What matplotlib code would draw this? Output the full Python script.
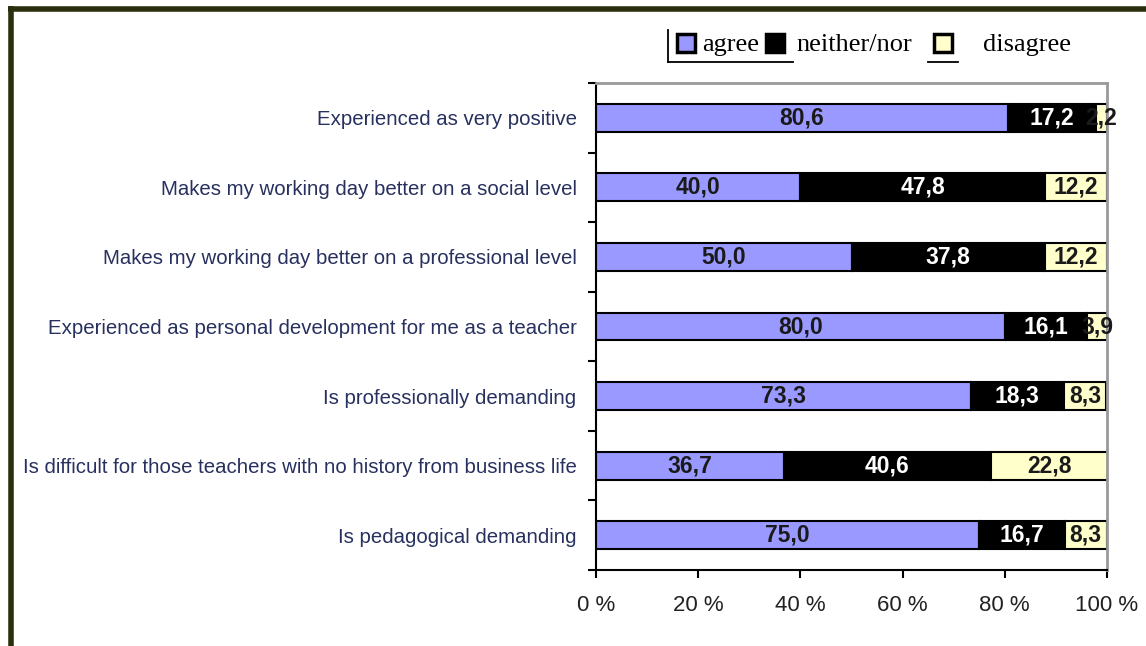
import matplotlib.pyplot as plt
from matplotlib.lines import Line2D
from matplotlib.patches import Rectangle

plt.rcParams["font.family"] = "Liberation Sans"

categories = [
    "Experienced as very positive",
    "Makes my working day better on a social level",
    "Makes my working day better on a professional level",
    "Experienced as personal development for me as a teacher",
    "Is professionally demanding",
    "Is difficult for those teachers with no history from business life",
    "Is pedagogical demanding",
]
agree = [80.6, 40.0, 50.0, 80.0, 73.3, 36.7, 75.0]
neither = [17.2, 47.8, 37.8, 16.1, 18.3, 40.6, 16.7]
disagree = [2.2, 12.2, 12.2, 3.9, 8.3, 22.8, 8.3]
xticks = [0, 20, 40, 60, 80, 100]

c_agree = "#9999ff"
c_neither = "#000000"
c_disagree = "#ffffcc"
c_label = "#27305e"

W, H = 1146, 646
fig = plt.figure(figsize=(W / 100, H / 100), dpi=100)
ax = fig.add_axes([596 / W, 1 - 570 / H, 511 / W, 487 / H])

y = list(range(len(categories)))
h = 0.4
ax.barh(y, agree, height=h, color=c_agree, edgecolor="black", linewidth=1.5, zorder=2)
ax.barh(y, neither, left=agree, height=h, color=c_neither, edgecolor="black",
        linewidth=1.5, zorder=2)
left3 = [a + n for a, n in zip(agree, neither)]
ax.barh(y, disagree, left=left3, height=h, color=c_disagree, edgecolor="black",
        linewidth=1.5, zorder=2)

def fmt(v):
    return ("%.1f" % v).replace(".", ",")

for i in y:
    ax.text(agree[i] / 2, i, fmt(agree[i]), ha="center", va="center",
            fontsize=16.5, fontweight="bold", color="#1a1a1a", zorder=3)
    ax.text(agree[i] + neither[i] / 2, i, fmt(neither[i]), ha="center", va="center",
            fontsize=16.5, fontweight="bold", color="white", zorder=3)
    ax.text(left3[i] + disagree[i] / 2, i, fmt(disagree[i]), ha="center", va="center",
            fontsize=16.5, fontweight="bold", color="#1a1a1a", zorder=3, clip_on=False)

ax.set_xlim(0, 100)
ax.set_ylim(len(categories) - 0.5, -0.5)
ax.set_xticks(xticks)
ax.set_xticklabels(["%d %%" % t for t in xticks], fontsize=16, color="#222222")
ax.set_yticks(y)
ax.set_yticklabels(categories, fontsize=14.7, color=c_label)
ax.set_yticks([i - 0.5 for i in range(len(categories) + 1)], minor=True)
ax.tick_params(axis="y", which="major", length=0, pad=14)
ax.tick_params(axis="y", which="minor", length=6, width=1.5, direction="out")
ax.tick_params(axis="x", length=6, width=1.5, pad=12)

for s in ("left", "bottom"):
    ax.spines[s].set_color("black")
    ax.spines[s].set_linewidth(1.5)
for s in ("top", "right"):
    ax.spines[s].set_color("#999999")
    ax.spines[s].set_linewidth(2)

# legend drawn by hand
def fx(px):
    return px / W

def fy(py):
    return 1 - py / H

sq = 18
for x0, col in [(677, c_agree), (766, c_neither), (934, c_disagree)]:
    fig.patches.append(Rectangle((fx(x0), fy(34 + sq)), sq / W, sq / H,
                                 facecolor=col, edgecolor="black", linewidth=2.5,
                                 transform=fig.transFigure))
for x0, txt in [(702, "agree"), (796, "neither/nor"), (983, "disagree")]:
    fig.text(fx(x0), fy(45), txt, family="Liberation Serif", fontsize=19,
             ha="left", va="center", color="black")

lk = dict(color="black", linewidth=1.3, transform=fig.transFigure)
fig.add_artist(Line2D([fx(668), fx(668)], [fy(30), fy(62)], **lk))
fig.add_artist(Line2D([fx(668), fx(793)], [fy(62), fy(62)], **lk))
fig.add_artist(Line2D([fx(928), fx(958)], [fy(62), fy(62)], **lk))

# outer frame
fk = dict(color="#2b2f0e", linewidth=4, transform=fig.transFigure, solid_capstyle="butt")
fig.add_artist(Line2D([fx(10.5), fx(10.5)], [fy(6), 0], **fk))
fig.add_artist(Line2D([fx(8), 1], [fy(8.5), fy(8.5)], **fk))

fig.savefig("out.png", dpi=100)
